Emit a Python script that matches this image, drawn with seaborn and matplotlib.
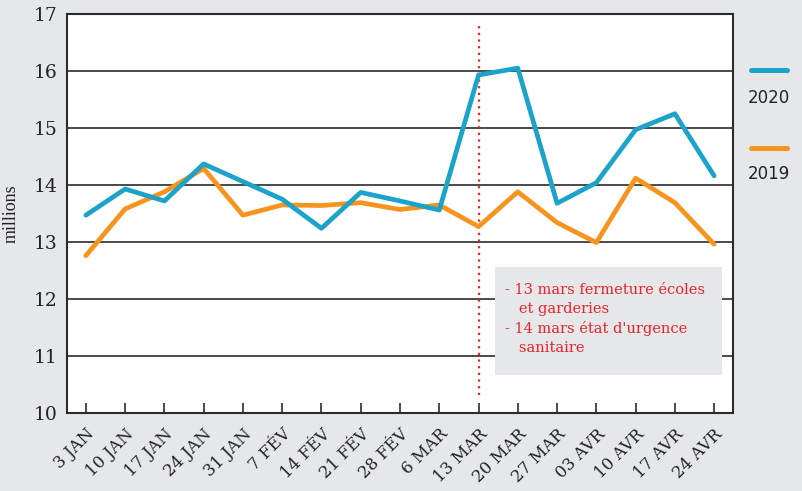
import matplotlib
matplotlib.use("Agg")
import matplotlib.pyplot as plt
import seaborn as sns
import pandas as pd
import numpy as np
from matplotlib.lines import Line2D
from matplotlib.patches import Rectangle

weeks = ["3 JAN", "10 JAN", "17 JAN", "24 JAN", "31 JAN", "7 FÉV", "14 FÉV", "21 FÉV",
         "28 FÉV", "6 MAR", "13 MAR", "20 MAR", "27 MAR", "03 AVR", "10 AVR", "17 AVR", "24 AVR"]
v2020 = [13.47, 13.93, 13.72, 14.37, 14.06, 13.75, 13.24, 13.87, 13.72, 13.56,
         15.93, 16.05, 13.68, 14.04, 14.97, 15.25, 14.16]
v2019 = [12.76, 13.58, 13.88, 14.29, 13.47, 13.65, 13.64, 13.69, 13.57, 13.65,
         13.27, 13.88, 13.34, 12.99, 14.12, 13.69, 12.96]
series = ["2019", "2020"]
colors = {"2020": "#1ba3c9", "2019": "#f7941e"}
yticks = [10, 11, 12, 13, 14, 15, 16, 17]
event_index = 10
note = "- 13 mars fermeture écoles\n   et garderies\n- 14 mars état d'urgence\n   sanitaire"

df = pd.DataFrame({
    "idx": list(range(len(weeks))) * 2,
    "val": v2019 + v2020,
    "year": ["2019"] * len(weeks) + ["2020"] * len(weeks),
})

sns.set_theme(style="white")
plt.rcParams['font.family'] = ['DejaVu Serif', 'DejaVu Sans']

bg = "#e6e7e8"
fig = plt.figure(figsize=(8.02, 4.91), dpi=100, facecolor=bg)
ax = fig.add_axes([67/802, 1-413/491, (733-67)/802, (413-14)/491])
ax.set_facecolor("white")

for y in yticks[1:-1]:
    ax.axhline(y, color="#2b2b2b", lw=1.2, zorder=1)

sns.lineplot(data=df, x="idx", y="val", hue="year", hue_order=series,
             palette=colors, linewidth=3.4, legend=False, ax=ax, zorder=3,
             solid_capstyle="round")

ax.vlines(event_index, 10.32, 16.86, colors="#e8232a", linestyles=(0, (1, 2)),
          lw=1.6, zorder=2)

ax.set_xlim(-0.48, len(weeks) - 1 + 0.48)
ax.set_ylim(10, 17)
ax.set_yticks(yticks)
ax.set_yticklabels([str(y) for y in yticks], fontsize=13.5, color="#222222")
ax.set_xticks(range(len(weeks)))
ax.set_xticklabels(weeks, rotation=45, ha="right", rotation_mode="anchor",
                   fontsize=12, color="#222222")
ax.tick_params(axis="x", bottom=True, direction="in", length=7, width=1.2,
               color="#2b2b2b", pad=9)
ax.tick_params(axis="y", left=False, length=0, pad=7)
ax.set_xlabel("")
ax.set_ylabel("millions", fontsize=13, color="#222222", labelpad=10,
              family=["Liberation Serif", "DejaVu Serif"])
for s in ax.spines.values():
    s.set_visible(True)
    s.set_color("#2b2b2b")
    s.set_linewidth(1.5)

# annotation box
box = Rectangle((495/802, 1-375/491), (722-495)/802, (375-267)/491,
                transform=fig.transFigure, facecolor=bg, edgecolor="none", zorder=5)
fig.add_artist(box)
fig.text(505/802, 1-283/491, note, color="#e8232a", fontsize=10.5, va="top",
         ha="left", linespacing=1.45, zorder=6)

# legend
for yy, lab, ty in [(70, "2020", 98), (148, "2019", 174)]:
    fig.add_artist(Line2D([751/802, 787/802], [1-yy/491, 1-yy/491],
                          transform=fig.transFigure, color=colors[lab], lw=3.6,
                          solid_capstyle="round"))
    fig.text(769/802, 1-ty/491, lab, ha="center", va="center", fontsize=12,
             color="#222222", family="DejaVu Sans")

fig.savefig("out.png", dpi=100, facecolor=bg)
